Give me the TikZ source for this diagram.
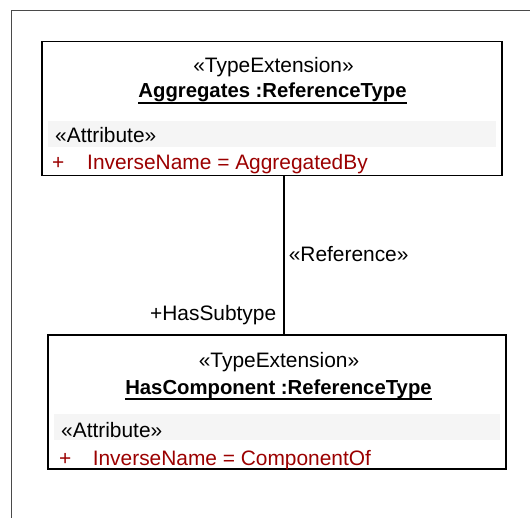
\documentclass[tikz,border=0pt]{standalone}
\usepackage{fontspec}
\setmainfont{Liberation Sans}
\usepackage{xcolor}
\usepackage{tikz}
\usetikzlibrary{positioning}

\definecolor{attrred}{HTML}{9B0000}
\definecolor{bandgray}{HTML}{F5F5F5}
\definecolor{framegray}{HTML}{4A4A4A}

\begin{document}
\begin{tikzpicture}[x=1pt, y=-1pt, font=\fontsize{20.9}{24}\selectfont,
  classbox/.style={draw, line width=1.6pt, minimum width=#1, minimum height=134pt, inner sep=0pt},
  txt/.style={inner sep=0pt, anchor=base},
  bold/.style={txt, font=\fontsize{20.3}{24}\selectfont\bfseries},
  attr/.style={inner sep=0pt, anchor=base west, text=attrred}]
\useasboundingbox (0,0) rectangle (530,518);
% diagram frame
\draw[framegray, line width=1pt] (530,10.5) -- (11,10.5) -- (11,518);
% Aggregates
\node[classbox=460pt] (agg) at (272,108.5) {};
\fill[bandgray] (48,121) rectangle (496,147);
\node[txt] (aggst) at (273.5,73) {«TypeExtension»};
\node[bold] (aggname) at (272.5,98) {Aggregates :ReferenceType};
\draw[line width=1.2pt] ([yshift=-5pt]aggname.base west) -- ([yshift=-5pt]aggname.base east);
\node[inner sep=0pt, anchor=base west] (aggattr) at (55,143) {«Attribute»};
\node[attr] (aggplus) at (52,170) {+};
\node[attr] (agginv) at (87,170) {InverseName = AggregatedBy};
% HasComponent
\node[classbox=458pt] (hc) at (277,402) {};
\fill[bandgray] (54,414) rectangle (500,440);
\node[txt] (hcst) at (279,367) {«TypeExtension»};
\node[bold] (hcname) at (278.5,395) {HasComponent :ReferenceType};
\draw[line width=1.2pt] ([yshift=-4pt]hcname.base west) -- ([yshift=-4pt]hcname.base east);
\node[inner sep=0pt, anchor=base west] (hcattr) at (61,437) {«Attribute»};
\node[attr] (hcplus) at (59,465) {+};
\node[attr] (hcinv) at (92.6,465) {InverseName = ComponentOf};
% reference
\coordinate (refx) at (284,0);
\draw[line width=1.6pt] (agg.south -| refx) -- (hc.north -| refx)
  node[pos=0.49, anchor=west, inner sep=0pt, xshift=4pt] (reflbl) {«Reference»}
  node[pos=0.88, anchor=east, inner sep=0pt, xshift=-7pt] (role) {+HasSubtype};
\end{tikzpicture}
\end{document}
